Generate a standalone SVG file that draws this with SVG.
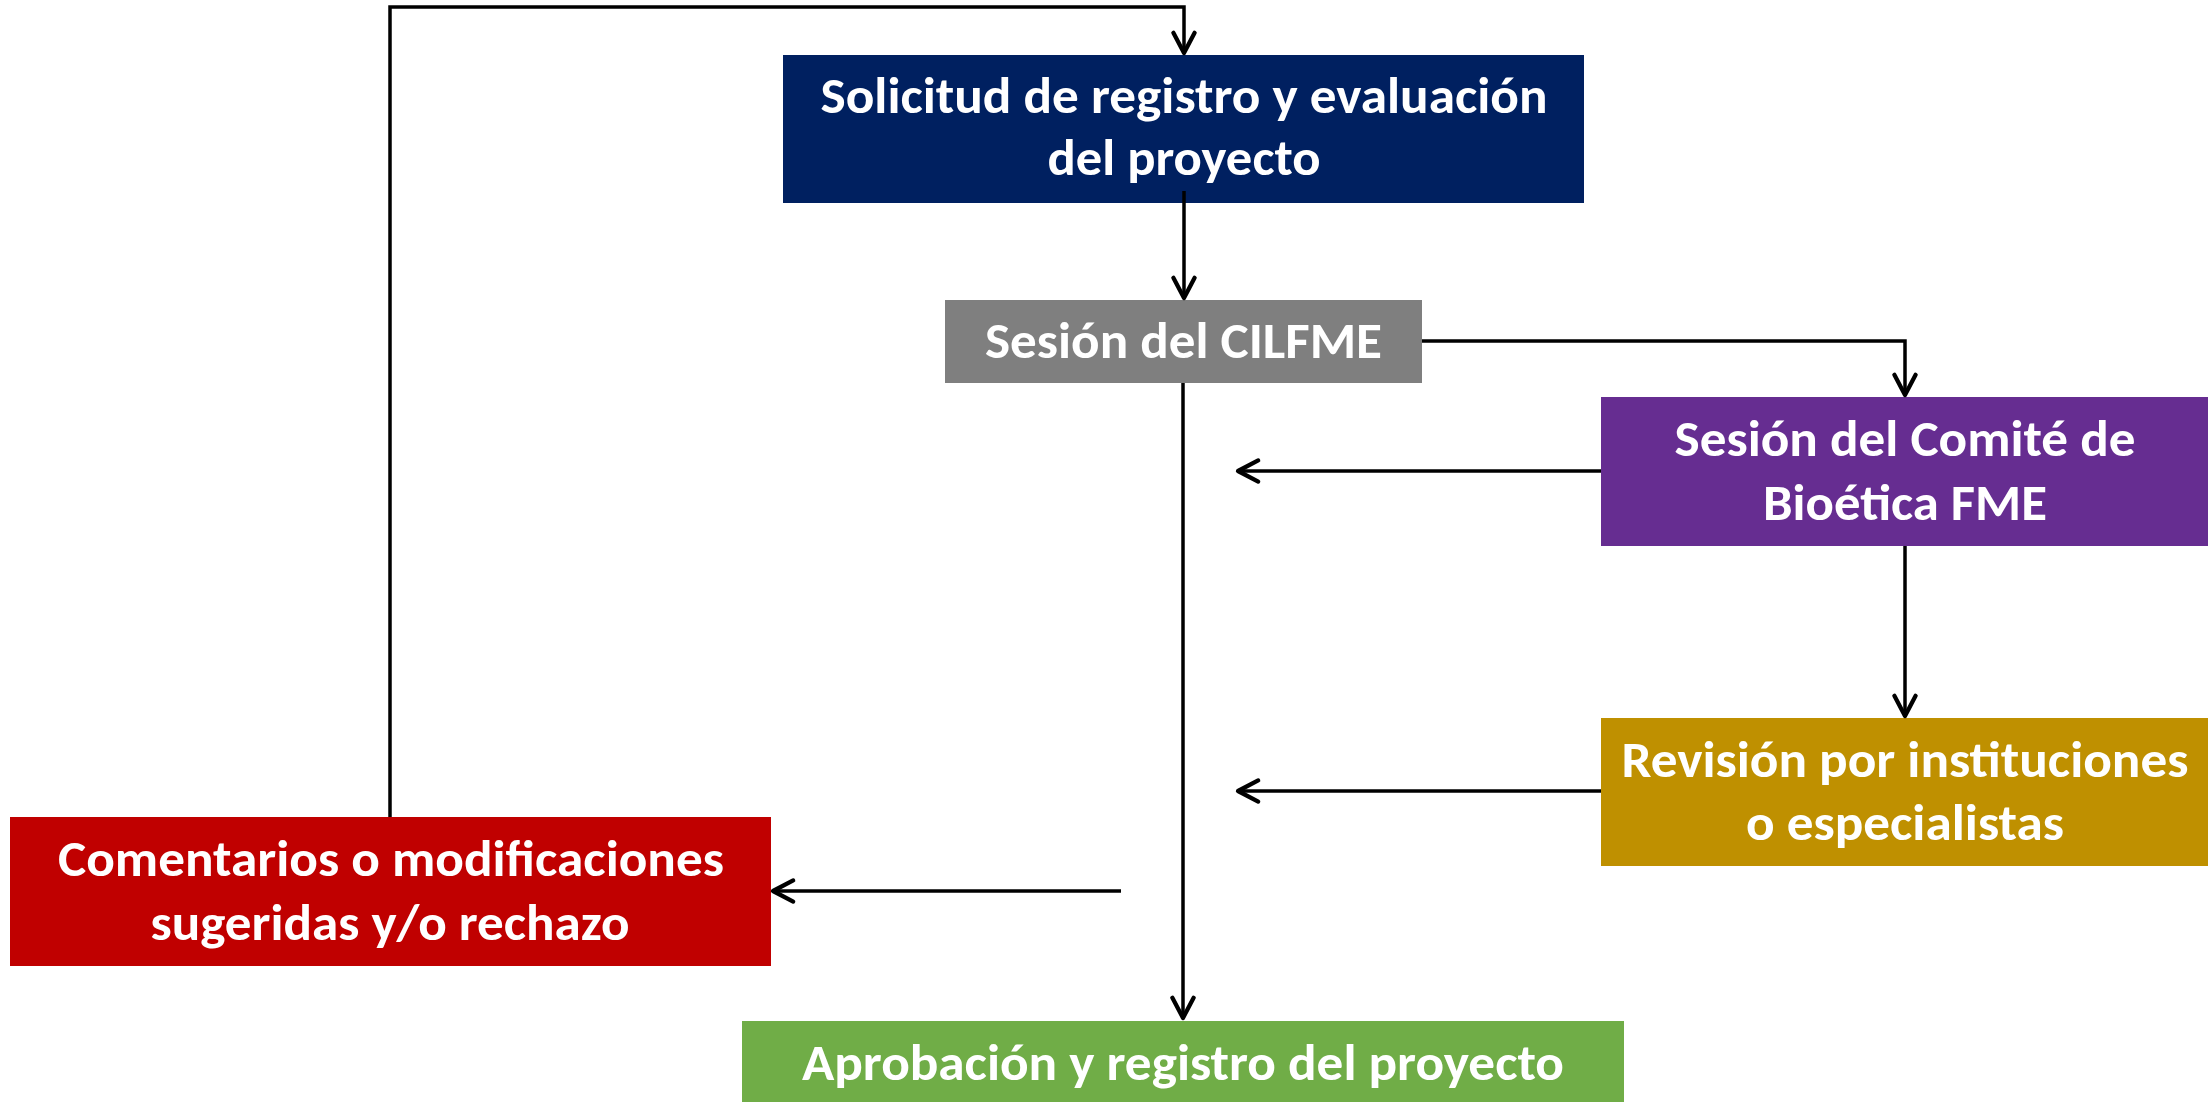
<svg xmlns="http://www.w3.org/2000/svg" width="2208" height="1102" viewBox="0 0 2208 1102">
  <style>
    .lbl { font-family: Carlito, "Liberation Sans Narrow", "Open Sans", "Liberation Sans", sans-serif; font-weight: bold; font-size: 50px; fill: #ffffff; text-anchor: middle; }
    .conn { fill: none; stroke: #000000; stroke-width: 3.5; }
  </style>
  <defs>
    <marker id="arr" markerUnits="userSpaceOnUse" markerWidth="34" markerHeight="34" viewBox="-26 -16 32 32" refX="0" refY="0" orient="auto">
      <path d="M-19,-10 L0,0 L-19,10" fill="none" stroke="#000000" stroke-width="4" stroke-linecap="round" stroke-linejoin="round"/>
    </marker>
  </defs>
  <rect x="0" y="0" width="2208" height="1102" fill="#ffffff"/>

  <g id="n-solicitud">
    <rect x="783" y="55" width="801" height="148" fill="#002060"/>
    <text class="lbl" x="1184" y="113" textLength="727" lengthAdjust="spacingAndGlyphs">Solicitud de registro y evaluación</text>
    <text class="lbl" x="1184" y="175" textLength="273" lengthAdjust="spacingAndGlyphs">del proyecto</text>
  </g>

  <g id="n-cilfme">
    <rect x="945" y="300" width="477" height="83" fill="#7f7f7f"/>
    <text class="lbl" x="1183.5" y="358" textLength="397" lengthAdjust="spacingAndGlyphs">Sesión del CILFME</text>
  </g>

  <g id="n-bioetica">
    <rect x="1601" y="397" width="607" height="149" fill="#662d91"/>
    <text class="lbl" x="1905" y="456" textLength="461" lengthAdjust="spacingAndGlyphs">Sesión del Comité de</text>
    <text class="lbl" x="1905" y="520" textLength="284" lengthAdjust="spacingAndGlyphs">Bioética FME</text>
  </g>

  <g id="n-revision">
    <rect x="1601" y="718" width="607" height="148" fill="#bf9000"/>
    <text class="lbl" x="1905" y="777" textLength="567" lengthAdjust="spacingAndGlyphs">Revisión por instituciones</text>
    <text class="lbl" x="1905" y="840" textLength="318" lengthAdjust="spacingAndGlyphs">o especialistas</text>
  </g>

  <g id="n-comentarios">
    <rect x="10" y="817" width="761" height="149" fill="#c00000"/>
    <text class="lbl" x="391" y="876" textLength="666" lengthAdjust="spacingAndGlyphs">Comentarios o modificaciones</text>
    <text class="lbl" x="390" y="940" textLength="479" lengthAdjust="spacingAndGlyphs">sugeridas y/o rechazo</text>
  </g>

  <g id="n-aprobacion">
    <rect x="742" y="1021" width="882" height="81" fill="#70ad47"/>
    <text class="lbl" x="1183" y="1080" textLength="762" lengthAdjust="spacingAndGlyphs">Aprobación y registro del proyecto</text>
  </g>

  <g id="connectors">
    <path class="conn" d="M390,817 V7 H1184 V53" marker-end="url(#arr)"/>
    <path class="conn" d="M1184,191 V298" marker-end="url(#arr)"/>
    <path class="conn" d="M1422,341 H1905 V395" marker-end="url(#arr)"/>
    <path class="conn" d="M1601,471 H1238" marker-end="url(#arr)"/>
    <path class="conn" d="M1905,546 V716" marker-end="url(#arr)"/>
    <path class="conn" d="M1601,791 H1238" marker-end="url(#arr)"/>
    <path class="conn" d="M1121,891 H773" marker-end="url(#arr)"/>
    <path class="conn" d="M1183,383 V1018" marker-end="url(#arr)"/>
  </g>
</svg>
